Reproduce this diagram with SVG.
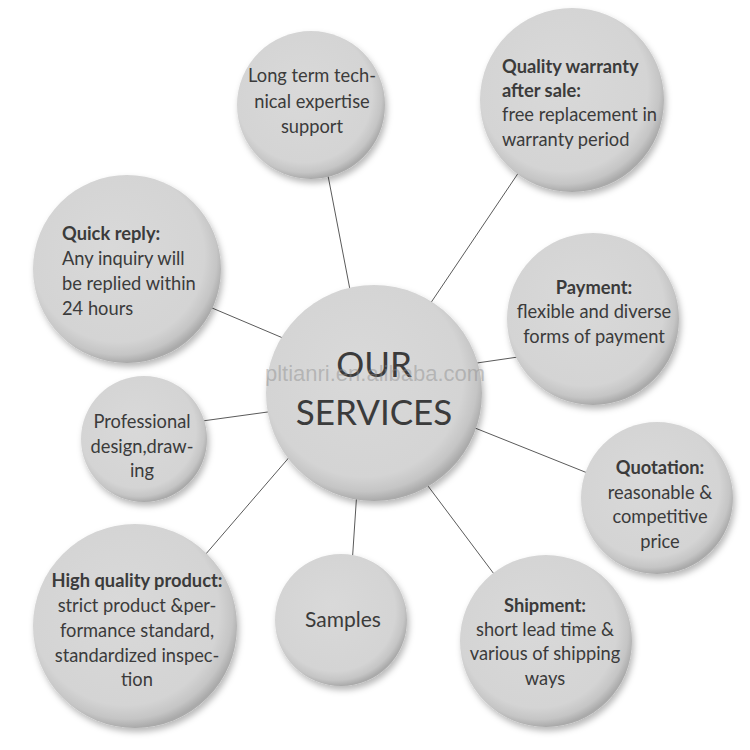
<svg xmlns="http://www.w3.org/2000/svg" width="750" height="750" viewBox="0 0 750 750">
<defs>
<radialGradient id="g" cx="0.46" cy="0.44" r="0.56" fx="0.42" fy="0.38">
<stop offset="0" stop-color="#d9d9d9"/>
<stop offset="0.82" stop-color="#d4d4d4"/>
<stop offset="0.93" stop-color="#c5c5c5"/>
<stop offset="1" stop-color="#aaaaaa"/>
</radialGradient>
<filter id="sh" x="-20%" y="-20%" width="140%" height="140%">
<feDropShadow dx="2" dy="4" stdDeviation="3" flood-color="#000" flood-opacity="0.28"/>
</filter>
</defs>
<style>
.c{fill:url(#g);filter:url(#sh)}
.t{font-family:Lato,"Liberation Sans",sans-serif;font-size:18.3px;fill:#3b3b3b}
.m{text-anchor:middle}
.b{font-weight:bold}
.l{stroke:#5a5a5a;stroke-width:1;fill:none}
</style>
<rect width="750" height="750" fill="#fff"/>
<g id="connectors">
<line class="l" x1="325" y1="160" x2="351" y2="295"/>
<line class="l" x1="521" y1="169" x2="428" y2="307"/>
<line class="l" x1="205" y1="305" x2="290" y2="341"/>
<line class="l" x1="525" y1="356" x2="470" y2="364"/>
<line class="l" x1="195" y1="422" x2="275" y2="411"/>
<line class="l" x1="595" y1="476" x2="470" y2="426"/>
<line class="l" x1="205" y1="555" x2="292" y2="454"/>
<line class="l" x1="352" y1="565" x2="357" y2="490"/>
<line class="l" x1="500" y1="582" x2="425" y2="482"/>
</g>
<g id="center">
<circle class="c" cx="374" cy="393" r="108"/>
<text class="m" x="374" y="377" font-family="Lato,'Liberation Sans',sans-serif" font-size="35" fill="#3b3b3b">OUR</text>
<text class="m" x="374" y="425" font-family="Lato,'Liberation Sans',sans-serif" font-size="35" fill="#3b3b3b">SERVICES</text>
</g>
<g id="n-longterm">
<circle class="c" cx="311" cy="105" r="74"/>
<text class="t m" x="312" y="82">Long term tech-</text>
<text class="t m" x="312" y="108">nical expertise</text>
<text class="t m" x="312" y="133">support</text>
</g>
<g id="n-warranty">
<circle class="c" cx="572" cy="100" r="92"/>
<text class="t b" x="502" y="73">Quality warranty</text>
<text class="t b" x="502" y="97">after sale:</text>
<text class="t" x="502" y="121">free replacement in</text>
<text class="t" x="502" y="146">warranty period</text>
</g>
<g id="n-quick">
<circle class="c" cx="127" cy="269" r="94"/>
<text class="t b" x="62" y="240">Quick reply:</text>
<text class="t" x="62" y="265">Any inquiry will</text>
<text class="t" x="62" y="290">be replied within</text>
<text class="t" x="62" y="315">24 hours</text>
</g>
<g id="n-payment">
<circle class="c" cx="593" cy="319" r="86"/>
<text class="t b m" x="594" y="294">Payment:</text>
<text class="t m" x="594" y="318">flexible and diverse</text>
<text class="t m" x="594" y="343">forms of payment</text>
</g>
<g id="n-professional">
<circle class="c" cx="144" cy="439" r="63"/>
<text class="t m" x="142" y="428">Professional</text>
<text class="t m" x="142" y="453">design,draw-</text>
<text class="t m" x="142" y="477">ing</text>
</g>
<g id="n-quotation">
<circle class="c" cx="657" cy="498" r="76"/>
<text class="t b m" x="660" y="474">Quotation:</text>
<text class="t m" x="660" y="499">reasonable &amp;</text>
<text class="t m" x="660" y="523">competitive</text>
<text class="t m" x="660" y="548">price</text>
</g>
<g id="n-quality">
<circle class="c" cx="135" cy="626" r="102"/>
<text class="t b m" x="137" y="587">High quality product:</text>
<text class="t m" x="137" y="612">strict product &amp;per-</text>
<text class="t m" x="137" y="637">formance standard,</text>
<text class="t m" x="137" y="662">standardized inspec-</text>
<text class="t m" x="137" y="686">tion</text>
</g>
<g id="n-samples">
<circle class="c" cx="341" cy="620" r="66"/>
<text class="t m" x="343" y="627" style="font-size:21px">Samples</text>
</g>
<g id="n-shipment">
<circle class="c" cx="546" cy="641" r="86"/>
<text class="t b m" x="545" y="612">Shipment:</text>
<text class="t m" x="545" y="636">short lead time &amp;</text>
<text class="t m" x="545" y="660">various of shipping</text>
<text class="t m" x="545" y="685">ways</text>
</g>
<text x="375" y="381" text-anchor="middle" font-family="'Liberation Sans',Arial,sans-serif" font-size="22" fill="#8a8a8a" fill-opacity="0.45">pltianri.en.alibaba.com</text>
</svg>
